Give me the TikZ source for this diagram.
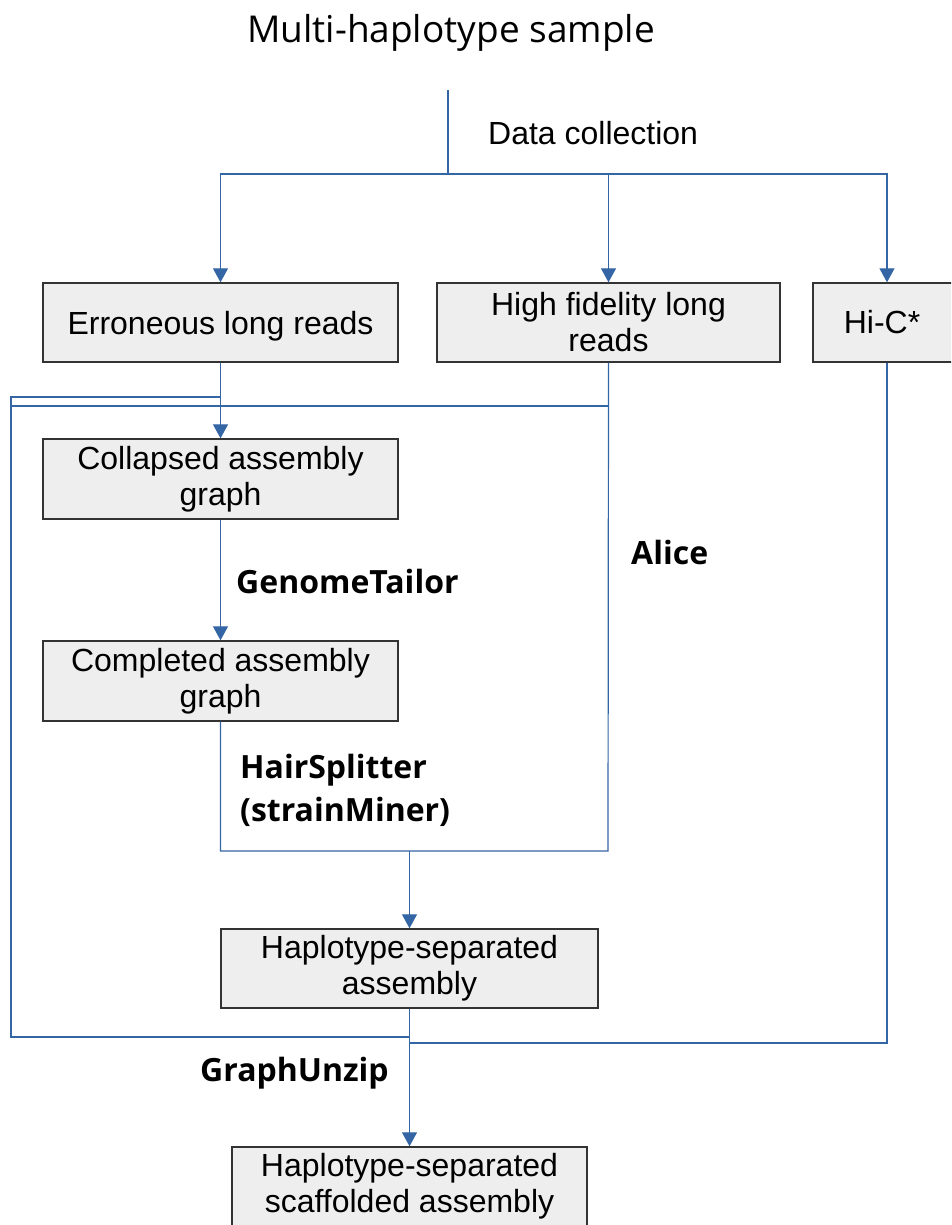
\documentclass[tikz,border=0pt]{standalone}
\usepackage{fontspec}
\setmainfont{Liberation Sans}
\newfontfamily\osans{Open Sans}
\usetikzlibrary{arrows.meta}
\definecolor{lblue}{HTML}{3465A4}
\definecolor{boxfill}{HTML}{EEEEEE}
\definecolor{boxline}{HTML}{333333}
\tikzset{
  box/.style={draw=boxline, line width=1.4pt, fill=boxfill, align=center, inner sep=0pt,
    font=\fontsize{32}{36}\selectfont},
  conn/.style={draw=lblue, line width=1.2pt},
  arr/.style={conn, -{Triangle[width=15pt,length=14pt,fill=lblue]}},
  blabel/.style={anchor=west, font=\osans\bfseries\fontsize{32}{43}\selectfont, align=left, inner sep=0pt},
}
\begin{document}
\begin{tikzpicture}[x=1pt,y=-1pt]
\useasboundingbox (0,0) rectangle (951,1225);
\begin{scope}
\clip (0,0) rectangle (951,1225);
% title
\node[font=\osans\fontsize{37}{42}\selectfont] (title) at (451,33) {Multi-haplotype sample};
\node[anchor=west, inner sep=0pt, font=\fontsize{32}{36}\selectfont] (dclab) at (488,133) {Data collection};
% boxes
\node[box, minimum width=355pt, minimum height=79pt, text depth=0pt] (err) at (220.5,322.5) {Erroneous long reads};
\node[box, minimum width=343pt, minimum height=79pt] (hifi) at (608.5,322.5) {High fidelity long\\reads};
\node[box, minimum width=148pt, minimum height=79pt] (hic) at (887,322.5) {\hspace*{-10pt}Hi-C*};
\node[box, minimum width=355pt, minimum height=80pt] (coll) at (220.5,479) {Collapsed assembly\\graph};
\node[box, minimum width=355pt, minimum height=80pt] (comp) at (220.5,681) {Completed assembly\\graph};
\node[box, minimum width=377pt, minimum height=79pt] (hsa) at (409.5,968.5) {Haplotype-separated\\assembly};
\node[box, minimum width=355pt, minimum height=79pt] (scaf) at (409.5,1186.5) {Haplotype-separated\\scaffolded assembly};
% labels
\node[blabel] (gt) at (236,581) {GenomeTailor};
\node[blabel] (hs) at (240,790) {HairSplitter\\(strainMiner)};
\node[blabel] (alice) at (631,552) {Alice};
\node[blabel] (gu) at (200,1073) {GraphUnzip};
% coordinates
\coordinate (dc) at (448,90);
\coordinate (split) at (448,174);
\coordinate (ea) at (220.5,397);
\coordinate (eb) at (11,397);
\coordinate (ha) at (608,406);
\coordinate (hb) at (11,406);
\coordinate (lb) at (11,1037);
\coordinate (lm) at (409.5,1037);
\coordinate (ac) at (608,851);
\coordinate (am) at (409.5,851);
\coordinate (hcb) at (887,1043);
\coordinate (hcm) at (409.5,1043);
% connectors
\draw[conn] (dc) -- (split);
\draw[arr] (split) -| (err.north);
\draw[arr] (split) -| (hifi.north);
\draw[arr] (split) -| (hic.north);
\draw[arr] (err.south) -- (coll.north);
\draw[conn] (ea) -- (eb) -- (lb) -- (lm);
\draw[conn] (hifi.south) -- (ac) -| (comp.south);
\draw[conn] (ha) -- (hb);
\draw[arr] (coll.south) -- (comp.north);
\draw[arr] (am) -- (hsa.north);
\draw[conn] (hic.south) -- (hcb) -- (hcm);
\draw[arr] (hsa.south) -- (scaf.north);
\end{scope}
\end{tikzpicture}
\end{document}
